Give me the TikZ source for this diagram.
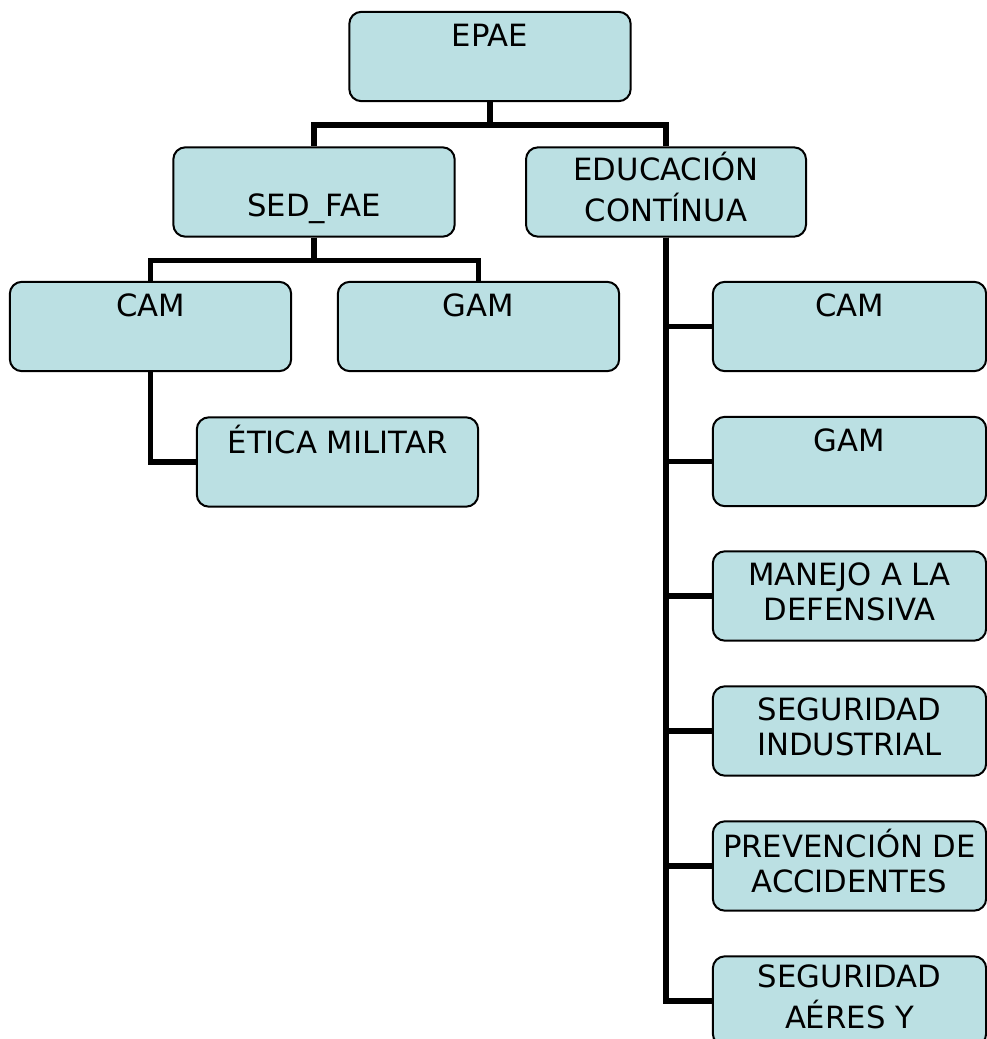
\documentclass[tikz,border=0pt]{standalone}
\usepackage{fontspec}
\setmainfont{DejaVu Sans}
\definecolor{boxfill}{HTML}{BBE0E3}

\begin{document}
\begin{tikzpicture}[x=0.75pt,y=-0.75pt,
        unit/.style={draw=black, line width=1.5pt, fill=boxfill, rounded corners=9pt,
            align=center, inner sep=0pt, minimum width=211pt, minimum height=67pt,
            font=\fontsize{23}{26.25}\selectfont},
        subunit/.style={unit, minimum width=205pt},
        link/.style={line width=4.2pt}]
    \useasboundingbox (0,0) rectangle (987,1039);

    \node[unit] (epae) at (490,56.5) {\strut EPAE\\\strut};
    \node[unit] (sedfae) at (314,192) {\strut\\\strut SED\_FAE};
    \node[unit, minimum width=210pt] (educ) at (666,192) {\strut EDUCACIÓN\\\strut CONTÍNUA};

    \node[unit] (cam1) at (150.5,326.5) {\strut CAM\\\strut};
    \node[unit] (gam1) at (478.5,326.5) {\strut GAM\\\strut};
    \node[unit] (etica) at (337.5,462) {\strut ÉTICA MILITAR\\\strut};

    \node[subunit] (cam2) at (849.5,326.5) {\strut CAM\\\strut};
    \node[subunit] (gam2) at (849.5,461.5) {\strut GAM\\\strut};
    \node[subunit] (manejo) at (849.5,596) {\strut MANEJO A LA\\\strut DEFENSIVA};
    \node[subunit] (segind) at (849.5,731) {\strut SEGURIDAD\\\strut INDUSTRIAL};
    \node[subunit] (prev) at (849.5,866) {\strut PREVENCIÓN DE\\\strut ACCIDENTES};
    \node[subunit] (segaer) at (849.5,1001) {\strut SEGURIDAD\\\strut AÉRES Y};

    \draw[link] (epae.south) -- ++(0,23) -| (sedfae.north);
    \draw[link] (epae.south) -- ++(0,23) -| (educ.north);
    \draw[link] (sedfae.south) -- ++(0,23) -| (cam1.north);
    \draw[link] (sedfae.south) -- ++(0,23) -| (gam1.north);
    \draw[link] (cam1.south) |- (etica.west);
    \draw[link] (educ.south) |- (cam2.west);
    \draw[link] (educ.south) |- (gam2.west);
    \draw[link] (educ.south) |- (manejo.west);
    \draw[link] (educ.south) |- (segind.west);
    \draw[link] (educ.south) |- (prev.west);
    \draw[link] (educ.south) |- (segaer.west);
\end{tikzpicture}
\end{document}
